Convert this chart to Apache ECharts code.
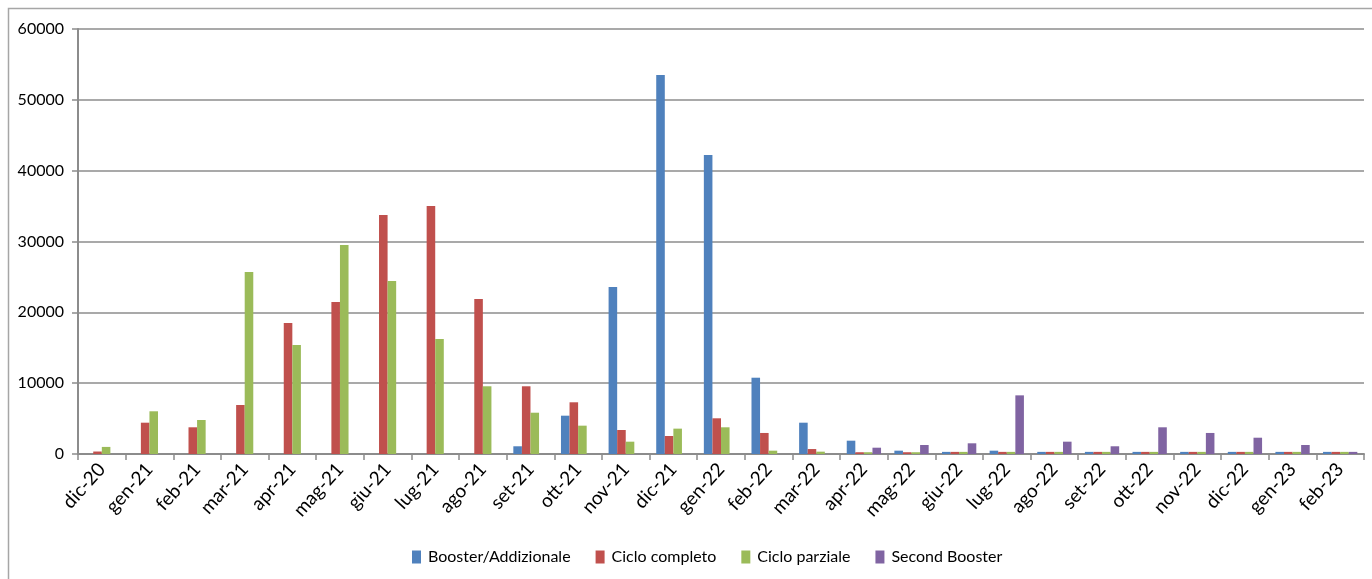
<!DOCTYPE html>
<html>
<head>
<meta charset="utf-8">
<script src="https://cdn.jsdelivr.net/npm/echarts@6/dist/echarts.min.js"></script>
<style>
  html, body { margin: 0; padding: 0; background: #fff; }
  #chart { width: 1372px; height: 579px; }
</style>
</head>
<body>
<div id="chart"></div>
<script>
// Monthly doses by type
const months = ['dic-20','gen-21','feb-21','mar-21','apr-21','mag-21','giu-21','lug-21','ago-21','set-21','ott-21','nov-21','dic-21','gen-22','feb-22','mar-22','apr-22','mag-22','giu-22','lug-22','ago-22','set-22','ott-22','nov-22','dic-22','gen-23','feb-23'];
const booster  = [0,0,0,0,0,0,0,0,0,1090,5410,23580,53500,42200,10770,4420,1880,470,300,470,300,300,300,300,300,300,300];
const completo = [350,4420,3770,6920,18500,21460,33750,35020,21900,9560,7300,3390,2540,5040,2970,700,250,250,300,300,300,300,300,300,300,300,300];
const parziale = [1000,6030,4800,25700,15400,29500,24430,16240,9560,5830,4000,1740,3580,3770,470,330,250,250,300,300,300,300,300,300,300,300,300];
const second   = [0,0,0,0,0,0,0,0,0,0,0,0,0,0,0,0,890,1270,1510,8280,1740,1090,3770,2970,2300,1270,300];
const seriesNames = ['Booster/Addizionale','Ciclo completo','Ciclo parziale','Second Booster'];
const colors = ['#4F81BD','#C0504D','#9BBB59','#8064A2'];

const FONT = 'Lato, "Open Sans", sans-serif';
const chart = echarts.init(document.getElementById('chart'));

const mkSeries = (name, data, color) => ({
  name, type: 'bar', data,
  barGap: '0%', barCategoryGap: '28%',
  itemStyle: { color },
  emphasis: { disabled: true }
});

chart.setOption({
  animation: false,
  color: colors,
  textStyle: { fontFamily: FONT },
  graphic: [{
    type: 'rect', silent: true,
    shape: { x: 8.5, y: 8.5, width: 1400, height: 600 },
    style: { fill: 'none', stroke: '#a6a6a6', lineWidth: 1.5 }
  }],
  grid: { left: 78, right: 8, top: 29, bottom: 125 },
  legend: {
    bottom: 9, left: 407,
    itemWidth: 9, itemHeight: 13, itemGap: 25,
    icon: 'rect',
    textStyle: { fontFamily: FONT, fontSize: 16, color: '#000', padding: [0, 0, 0, 2] },
    data: seriesNames
  },
  xAxis: {
    type: 'category', data: months,
    axisLine: { lineStyle: { color: '#8c8c8c', width: 2 } },
    axisTick: { show: true, length: 6, lineStyle: { color: '#8c8c8c', width: 1.5 } },
    axisLabel: { rotate: 48, margin: 12, fontFamily: FONT, fontSize: 19, color: '#000', interval: 0 }
  },
  yAxis: {
    type: 'value', min: 0, max: 60000, interval: 10000,
    axisLine: { show: true, lineStyle: { color: '#8c8c8c', width: 2 } },
    axisTick: { show: true, length: 6, lineStyle: { color: '#8c8c8c', width: 1.5 } },
    splitLine: { lineStyle: { color: '#8c8c8c', width: 1.5 } },
    axisLabel: { margin: 14, fontFamily: FONT, fontSize: 16, color: '#000', formatter: v => String(v) }
  },
  series: [
    mkSeries(seriesNames[0], booster, colors[0]),
    mkSeries(seriesNames[1], completo, colors[1]),
    mkSeries(seriesNames[2], parziale, colors[2]),
    mkSeries(seriesNames[3], second, colors[3])
  ]
});
</script>
</body>
</html>
